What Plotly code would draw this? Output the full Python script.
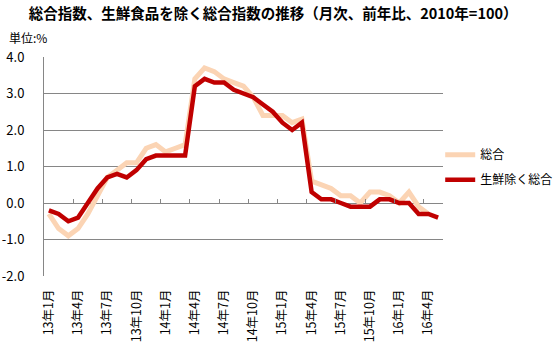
import plotly.graph_objects as go

months = [f"{y}年{m}月" for y in (13, 14, 15, 16) for m in range(1, 13)][:41]

sogo = [-0.3, -0.7, -0.9, -0.7, -0.3, 0.2, 0.7, 0.9, 1.1, 1.1, 1.5, 1.6,
        1.4, 1.5, 1.6, 3.4, 3.7, 3.6, 3.4, 3.3, 3.2, 2.9, 2.4, 2.4,
        2.4, 2.2, 2.3, 0.6, 0.5, 0.4, 0.2, 0.2, 0.0, 0.3, 0.3, 0.2,
        0.0, 0.3, -0.1, -0.3, None]
core = [-0.2, -0.3, -0.5, -0.4, 0.0, 0.4, 0.7, 0.8, 0.7, 0.9, 1.2, 1.3,
        1.3, 1.3, 1.3, 3.2, 3.4, 3.3, 3.3, 3.1, 3.0, 2.9, 2.7, 2.5,
        2.2, 2.0, 2.2, 0.3, 0.1, 0.1, 0.0, -0.1, -0.1, -0.1, 0.1, 0.1,
        0.0, 0.0, -0.3, -0.3, -0.4]

y_ticks = [4.0, 3.0, 2.0, 1.0, 0.0, -1.0, -2.0]
label_months = months[::3]
between_ticks = [i + 2.5 for i in range(0, 39, 3)]

FONT = "Noto Sans CJK JP"
GRID = "#868686"

fig = go.Figure()
fig.add_trace(go.Scatter(x=months, y=sogo, name="総合", mode="lines",
                         line=dict(color="#FBD4B4", width=5),
                         legendgroup="a"))
fig.add_trace(go.Scatter(x=months, y=core, name="生鮮除く総合", mode="lines",
                         line=dict(color="#C00000", width=4.5),
                         legendgroup="b"))
# invisible helper trace for the zero-line tick axis
fig.add_trace(go.Scatter(x=[0], y=[None], xaxis="x2", showlegend=False,
                         hoverinfo="skip", mode="lines"))

fig.update_layout(
    width=554, height=348,
    margin=dict(l=44, r=111, t=57, b=72, autoexpand=False),
    paper_bgcolor="white", plot_bgcolor="white",
    font=dict(family=FONT, color="#000000", size=12),
    title=dict(text="<b>総合指数、生鮮食品を除く総合指数の推移（月次、前年比、2010年=100）</b>",
               xref="container", x=0.493, xanchor="center",
               yref="container", y=0.96, yanchor="middle",
               font=dict(size=14.5, family=FONT)),
    showlegend=True,
    legend=dict(x=0.993, xanchor="left", y=0.497, yanchor="middle",
                traceorder="grouped", tracegroupgap=6,
                font=dict(size=12, family=FONT), bgcolor="rgba(0,0,0,0)",
                itemwidth=30),
    xaxis=dict(type="category", range=[-0.5, 40.5], tickmode="array",
               tickvals=label_months, ticktext=label_months,
               tickangle=-90, showgrid=False, showline=False, ticks="",
               ticklabelstandoff=10, automargin=False,
               tickfont=dict(size=12.5, family=FONT), zeroline=False),
    xaxis2=dict(overlaying="x", anchor="free", position=1/3, side="bottom",
                range=[-0.5, 40.5], tickmode="array", tickvals=between_ticks,
                showticklabels=False, ticks="inside", ticklen=4, tickwidth=1,
                tickcolor=GRID, showgrid=False, showline=False, zeroline=False,
                automargin=False),
    yaxis=dict(range=[-2, 4], tickmode="array", tickvals=y_ticks,
               ticktext=[f"{v:.1f}" for v in y_ticks],
               showgrid=True, gridcolor=GRID, gridwidth=1,
               showline=True, linecolor=GRID, linewidth=1,
               zeroline=False, ticks="", ticklabelstandoff=16,
               automargin=False,
               tickfont=dict(size=13, family=FONT)),
    annotations=[dict(text="単位:%", xref="paper", yref="paper",
                      x=-0.093, y=1.087, xanchor="left", yanchor="middle",
                      showarrow=False, font=dict(size=12, family=FONT))],
)

fig.write_html("out.html")
